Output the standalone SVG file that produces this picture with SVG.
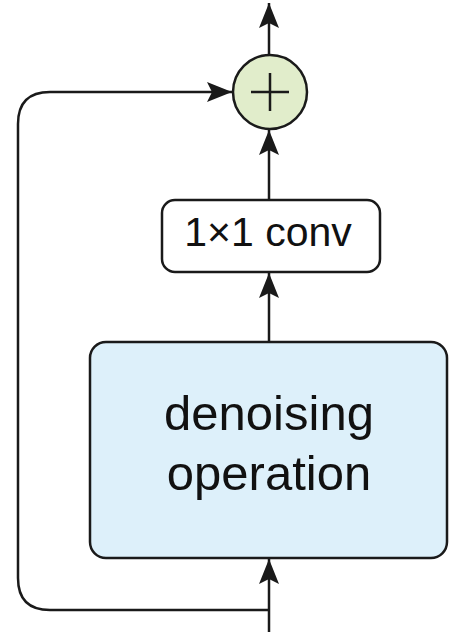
<svg xmlns="http://www.w3.org/2000/svg" width="449" height="632" viewBox="0 0 449 632">
<style>
.ln{fill:none;stroke:#1a1a1a;stroke-width:2.5;}
.box{stroke:#1a1a1a;stroke-width:2.5;}
.t{font-family:"Liberation Sans",Arial,sans-serif;fill:#111;text-anchor:middle;}
</style>
<defs>
<marker id="ah" viewBox="0 0 26 20" refX="25" refY="10" markerWidth="26" markerHeight="20" markerUnits="userSpaceOnUse" orient="auto">
<path d="M25,10 L0,0 L5,10 L0,20 Z" fill="#1a1a1a"/>
</marker>
</defs>
<g id="connectors">
<path class="ln" d="M269,632 L269,559" marker-end="url(#ah)"/>
<path class="ln" d="M269,610 L50,610 Q18,610 18,578 L18,124 Q18,92 50,92 L232,92" marker-end="url(#ah)"/>
<path class="ln" d="M269,342 L269,273" marker-end="url(#ah)"/>
<path class="ln" d="M269,200 L269,130" marker-end="url(#ah)"/>
<path class="ln" d="M269,55 L269,3" marker-end="url(#ah)"/>
</g>
<g id="denoising">
<rect class="box" x="90" y="342" width="357" height="216" rx="16" fill="#ddf0fa"/>
<text class="t" x="269" y="430" font-size="49">denoising</text>
<text class="t" x="269" y="490" font-size="49">operation</text>
</g>
<g id="conv">
<rect class="box" x="162" y="200" width="218" height="72" rx="13" fill="#ffffff"/>
<text class="t" x="268" y="246" font-size="41">1×1 conv</text>
</g>
<g id="sum">
<circle class="box" cx="270" cy="92" r="37" fill="#e1edcb"/>
<path class="ln" d="M251,92 L289,92 M270,73 L270,111"/>
</g>
</svg>
